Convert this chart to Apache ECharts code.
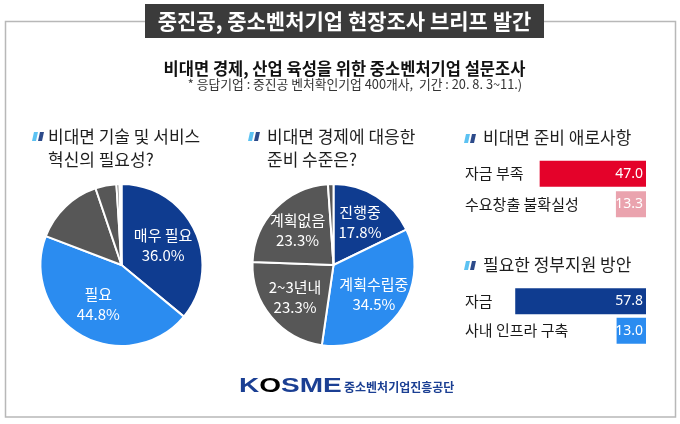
<!DOCTYPE html>
<html style="height: 100%">

<head>
    <meta charset="utf-8">
</head>

<body style="height: 100%; margin: 0">
    <div id="container" style="width: 680px; height: 424px"></div>
    <script type="text/javascript" src="https://cdn.jsdelivr.net/npm/echarts@6/dist/echarts.min.js"></script>
    <script type="text/javascript">
        var FONT = '"Noto Sans CJK KR", "Noto Sans", sans-serif';

        // 비대면 기술 및 서비스 혁신의 필요성 (%)
        var needNames = ['매우 필요', '필요', '보통', '불필요', '매우 불필요', '무응답'];
        var needValues = [36.0, 44.8, 14.0, 4.2, 0.6, 0.4];
        var needShowLabel = [true, true, false, false, false, false];

        // 비대면 경제에 대응한 준비 수준 (%)
        var readyNames = ['진행중', '계획수립중', '2~3년내', '계획없음', '기타'];
        var readyValues = [17.8, 34.5, 23.3, 23.3, 1.1];
        var readyShowLabel = [true, true, true, true, false];

        // 비대면 준비 애로사항 (%)
        var barrierNames = ['자금 부족', '수요창출 불확실성'];
        var barrierValues = [47.0, 13.3];

        // 필요한 정부지원 방안 (%)
        var supportNames = ['자금', '사내 인프라 구축'];
        var supportValues = [57.8, 13.0];

        var NAVY = '#0f3c90', BLUE = '#2b8cf0', GRAY = '#575757';
        var needColors = [NAVY, BLUE, GRAY, GRAY, GRAY, GRAY];
        var readyColors = [NAVY, BLUE, GRAY, GRAY, GRAY];
        var barrierColors = ['#e4022a', '#eaa3ae'];
        var supportColors = [NAVY, BLUE];

        var dom = document.getElementById("container");
        var myChart = echarts.init(dom);

        // visible pie, no labels
        function pieSeries(cx, names, values, colors) {
            return {
                type: 'pie',
                center: [cx, 265],
                radius: [0, 81],
                startAngle: 90,
                clockwise: true,
                silent: true,
                itemStyle: { borderColor: '#fff', borderWidth: 2 },
                label: { show: false },
                labelLine: { show: false },
                data: names.map(function (n, i) {
                    return { name: n, value: values[i], itemStyle: { color: colors[i] } };
                })
            };
        }

        // transparent ring on top, only to place the labels at the wanted radius
        function pieLabels(cx, r0, names, values, showLabel) {
            return {
                type: 'pie',
                center: [cx, 265],
                radius: [r0, 80],
                startAngle: 90,
                clockwise: true,
                silent: true,
                z: 3,
                itemStyle: { color: 'rgba(0,0,0,0)', borderWidth: 0 },
                label: {
                    position: 'inside',
                    color: '#fff',
                    fontSize: 15,
                    lineHeight: 20,
                    fontFamily: FONT,
                    formatter: function (p) {
                        return p.name + '\n' + p.value.toFixed(1) + '%';
                    }
                },
                labelLine: { show: false },
                data: names.map(function (n, i) {
                    return { name: n, value: values[i], label: { show: showLabel[i] } };
                })
            };
        }

        function barSeries(idx, values, colors) {
            return {
                type: 'bar',
                xAxisIndex: idx,
                yAxisIndex: idx,
                barWidth: 26,
                silent: true,
                label: {
                    show: true,
                    position: 'insideRight',
                    distance: 3,
                    overflow: 'none',
                    color: '#fff',
                    fontSize: 14,
                    fontFamily: '"Noto Sans", sans-serif',
                    formatter: function (p) { return p.value.toFixed(1); }
                },
                data: values.map(function (v, i) {
                    return { value: v, itemStyle: { color: colors[i] } };
                })
            };
        }

        function catAxis(idx, names) {
            return {
                gridIndex: idx,
                type: 'category',
                data: names,
                inverse: true,
                axisLine: { show: false, onZero: false },
                axisTick: { show: false },
                axisLabel: { inside: true, margin: 0, color: '#1a1a1a', fontSize: 15, fontFamily: FONT }
            };
        }

        function valAxis(idx) {
            return { gridIndex: idx, type: 'value', min: 0, max: 80, inverse: true, show: false };
        }

        // heading marks (two slanted bars)
        function marks(x, y) {
            return [
                { type: 'polygon', shape: { points: [[x, y + 9], [x + 4, y + 9], [x + 6, y], [x + 2, y]] }, style: { fill: '#5cc2f2' } },
                { type: 'polygon', shape: { points: [[x + 6, y + 9], [x + 10, y + 9], [x + 12, y], [x + 8, y]] }, style: { fill: '#2c4a8a' } }
            ];
        }

        function text(x, y, str, font, color, align) {
            return {
                type: 'text', x: x, y: y,
                style: { text: str, font: font, fill: color, textAlign: align || 'left', textVerticalAlign: 'middle' }
            };
        }

        var graphics = [
            { type: 'rect', shape: { x: 5.5, y: 21.5, width: 670, height: 395.5 }, style: { fill: 'none', stroke: '#b8b8b8', lineWidth: 1.5 } },
            { type: 'rect', shape: { x: 145, y: 4, width: 399, height: 34 }, style: { fill: '#3b3b3b' } },
            text(344.5, 21.5, '중진공, 중소벤처기업 현장조사 브리프 발간', 'bold 21px ' + FONT, '#fff', 'center'),
            text(344.5, 69, '비대면 경제, 산업 육성을 위한 중소벤처기업 설문조사', 'bold 16.5px ' + FONT, '#111', 'center'),
            text(355, 84, '* 응답기업 : 중진공 벤처확인기업 400개사,  기간 : 20. 8. 3~11.)', '12.8px ' + FONT, '#333', 'center'),
            text(48, 137, '비대면 기술 및 서비스', '17px ' + FONT, '#1e1e1e'),
            text(48, 160, '혁신의 필요성?', '17px ' + FONT, '#1e1e1e'),
            text(267, 137, '비대면 경제에 대응한', '17px ' + FONT, '#1e1e1e'),
            text(267, 160, '준비 수준은?', '17px ' + FONT, '#1e1e1e'),
            text(483, 138, '비대면 준비 애로사항', '17px ' + FONT, '#1e1e1e'),
            text(483, 265, '필요한 정부지원 방안', '17px ' + FONT, '#1e1e1e'),
            {
                type: 'text', x: 239, y: 386, scaleX: 1.4,
                style: {
                    text: 'K{o|O}SME', font: 'bold 20px "Liberation Sans", sans-serif', fill: '#1b3f93',
                    textVerticalAlign: 'middle',
                    rich: {
                        o: {
                            font: 'bold 20px "Liberation Sans", sans-serif',
                            fill: new echarts.graphic.LinearGradient(0, 0, 1, 0, [
                                { offset: 0, color: '#1b5fc0' }, { offset: 1, color: '#d8203a' }
                            ])
                        }
                    }
                }
            },
            text(344, 387, '중소벤처기업진흥공단', 'bold 12px ' + FONT, '#1b3f93')
        ];
        graphics = graphics.concat(marks(32, 132), marks(248, 132), marks(464, 134), marks(464, 261));

        option = {
            backgroundColor: '#fff',
            animation: false,
            grid: [
                { left: 465, right: 34, top: 158.5, height: 61, outerBoundsMode: 'none' },
                { left: 465, right: 34, top: 286.5, height: 59, outerBoundsMode: 'none' }
            ],
            xAxis: [valAxis(0), valAxis(1)],
            yAxis: [catAxis(0, barrierNames), catAxis(1, supportNames)],
            graphic: graphics,
            series: [
                pieSeries(121.5, needNames, needValues, needColors),
                pieSeries(333.5, readyNames, readyValues, readyColors),
                pieLabels(121.5, 6, needNames, needValues, needShowLabel),
                pieLabels(333.5, 14, readyNames, readyValues, readyShowLabel),
                barSeries(0, barrierValues, barrierColors),
                barSeries(1, supportValues, supportColors)
            ]
        };

        if (option && typeof option === "object") {
            myChart.setOption(option, true);
        }
    </script>
</body>

</html>
